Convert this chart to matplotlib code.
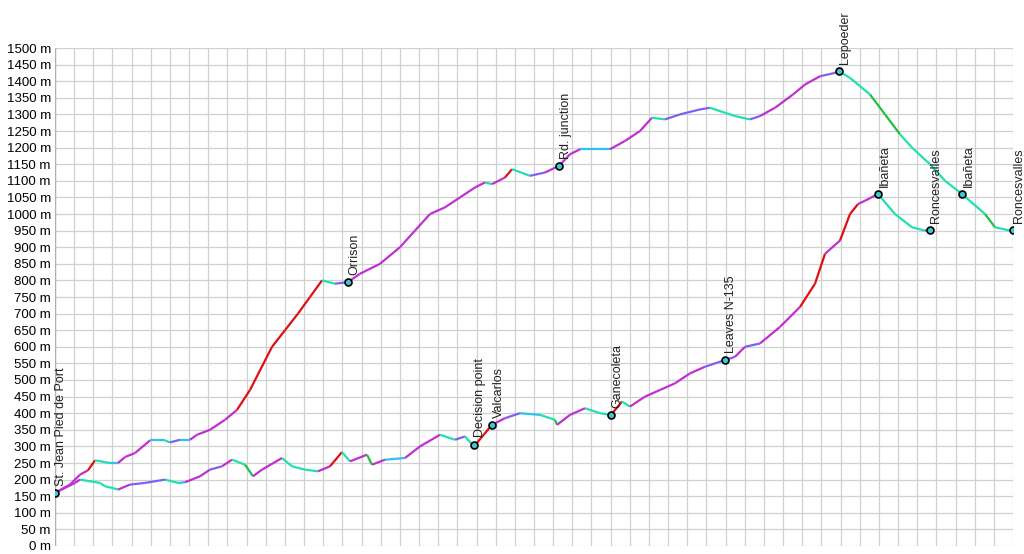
import numpy as np
import matplotlib.pyplot as plt
from matplotlib.collections import LineCollection

plt.rcParams['font.family'] = ['Liberation Sans', 'DejaVu Sans']

# distance along route (arbitrary units, 0..958) and elevation (m)
upper = [(0, 160), (15, 185), (25, 215), (33, 228), (40, 258), (55, 250), (63, 250),
         (70, 268), (80, 280), (95, 318), (110, 318), (115, 312), (125, 320), (135, 320),
         (142, 335), (155, 350), (170, 380), (182, 410), (195, 470), (217, 600),
         (230, 650), (243, 700), (255, 750), (267, 800), (280, 790), (293, 795),
         (305, 820), (325, 850), (345, 900), (360, 950), (375, 1000), (390, 1020),
         (405, 1050), (420, 1080), (430, 1095), (437, 1090), (450, 1110), (457, 1135),
         (475, 1115), (490, 1125), (504, 1145), (515, 1180), (525, 1195), (555, 1195),
         (570, 1220), (585, 1250), (597, 1290), (610, 1285), (625, 1300), (645, 1315),
         (655, 1320), (670, 1305), (680, 1295), (695, 1285), (705, 1295), (720, 1320),
         (738, 1360), (750, 1390), (765, 1415), (780, 1425), (784, 1430), (795, 1410),
         (815, 1360), (830, 1300), (845, 1240), (857, 1200), (875, 1150), (890, 1100),
         (907, 1060), (930, 1000), (940, 960), (955, 950), (958, 952)]

lower = [(0, 160), (20, 190), (25, 200), (45, 190), (50, 180), (57, 175), (63, 170),
         (75, 185), (90, 190), (110, 200), (123, 190), (130, 192), (145, 210),
         (155, 230), (167, 240), (177, 260), (190, 245), (198, 210), (207, 230),
         (227, 265), (237, 240), (250, 230), (263, 225), (275, 240), (287, 283),
         (295, 255), (312, 275), (317, 245), (330, 260), (350, 265), (365, 300),
         (385, 335), (400, 320), (410, 330), (419, 300), (437, 365), (450, 385),
         (465, 400), (485, 395), (500, 380), (502, 365), (515, 395), (530, 415),
         (545, 400), (556, 395), (567, 435), (575, 420), (590, 450), (605, 470),
         (620, 490), (635, 520), (650, 540), (670, 560), (680, 570), (690, 600),
         (705, 610), (725, 660), (745, 720), (760, 790), (770, 880), (785, 920),
         (795, 1000), (803, 1030), (810, 1040), (823, 1060), (840, 1000), (857, 960),
         (870, 950), (875, 952)]

waypoint_d = [0, 293, 504, 784, 907, 958, 419, 437, 556, 670, 823, 875]
waypoint_e = [160, 795, 1145, 1430, 1060, 952, 305, 365, 395, 560, 1060, 952]
waypoint_names = ['St. Jean Pied de Port', 'Orrison', 'Rd. junction', 'Lepoeder',
                  'Ibañeta', 'Roncesvalles', 'Decision point', 'Valcarlos',
                  'Ganecoleta', 'Leaves N-135', 'Ibañeta', 'Roncesvalles']


def slope_color(s):
    if s > 3.5:
        return '#e01010'
    if s > 1.0:
        return '#c030d0'
    if s > 0.3:
        return '#8060f0'
    if s > -0.3:
        return '#30c0e8'
    if s > -3.8:
        return '#20e0b0'
    return '#20c040'


fig = plt.figure(figsize=(10.24, 5.54), dpi=100)
ax = fig.add_axes([55 / 1024, 8 / 554, 958 / 1024, 498 / 554])

for route in (upper, lower):
    xs, ys = map(np.array, zip(*route))
    pts = np.column_stack([xs, ys])
    segs = np.stack([pts[:-1], pts[1:]], axis=1)
    slopes = np.diff(ys) / np.maximum(np.diff(xs), 1)
    cols = [slope_color(s) for s in slopes]
    ax.add_collection(LineCollection(segs, colors=cols, linewidths=1.6, zorder=3))

for x, y, name in zip(waypoint_d, waypoint_e, waypoint_names):
    ax.plot(x, y, 'o', ms=5, mfc='#40c8d0', mec='black', mew=1.2, zorder=4)
    ax.text(x + 0.5, y + 22, name, rotation=90, ha='left', va='bottom',
            fontsize=9, color='#222222', zorder=5)

ax.set_xlim(0, 958)
ax.set_ylim(0, 1500)
ax.set_xticks(np.linspace(0, 958, 51))
ax.set_yticks(np.arange(0, 1501, 50))
ax.set_yticklabels([f'{v} m' for v in range(0, 1501, 50)], fontsize=9.5)
ax.tick_params(axis='x', labelbottom=False, length=0)
ax.tick_params(axis='y', length=0, pad=3)
ax.grid(True, color='#d0d0d0', lw=0.9)
for s in ax.spines.values():
    s.set_visible(False)
ax.axvline(0, color='#b0b0b0', lw=1)

fig.savefig('out.png', dpi=100)
